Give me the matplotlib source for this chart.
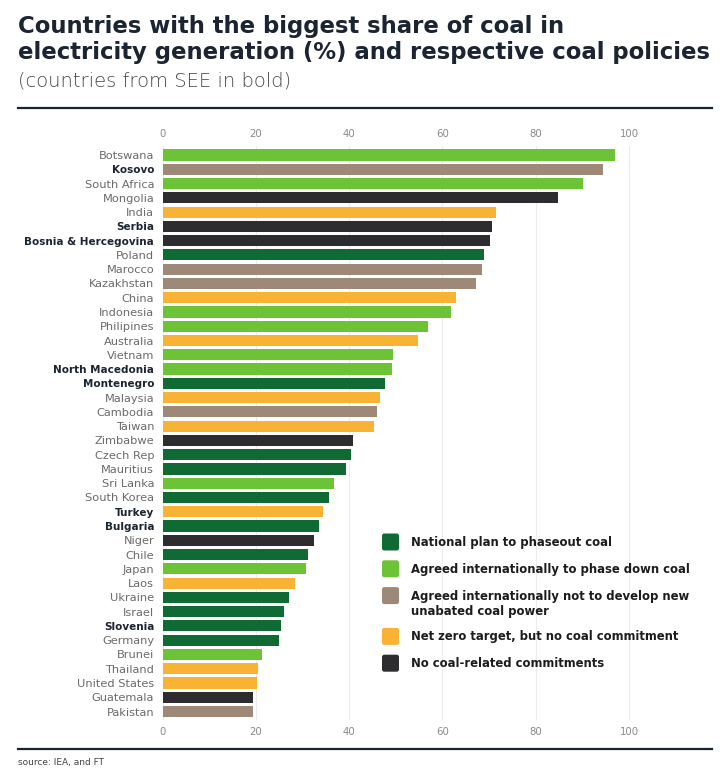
import matplotlib
matplotlib.use("Agg")
import matplotlib.pyplot as plt
from matplotlib.patches import FancyBboxPatch
from matplotlib.lines import Line2D

countries = ["Botswana", "Kosovo", "South Africa", "Mongolia", "India", "Serbia",
             "Bosnia & Hercegovina", "Poland", "Marocco", "Kazakhstan", "China",
             "Indonesia", "Philipines", "Australia", "Vietnam", "North Macedonia",
             "Montenegro", "Malaysia", "Cambodia", "Taiwan", "Zimbabwe", "Czech Rep",
             "Mauritius", "Sri Lanka", "South Korea", "Turkey", "Bulgaria", "Niger",
             "Chile", "Japan", "Laos", "Ukraine", "Israel", "Slovenia", "Germany",
             "Brunei", "Thailand", "United States", "Guatemala", "Pakistan"]
values = [97.0, 94.4, 90.1, 84.8, 71.5, 70.7, 70.3, 69.0, 68.4, 67.2, 63.0,
          61.8, 56.9, 54.7, 49.5, 49.3, 47.6, 46.7, 46.0, 45.4, 40.9, 40.4,
          39.4, 36.8, 35.7, 34.5, 33.5, 32.4, 31.1, 30.7, 28.5, 27.1, 26.1,
          25.5, 24.9, 21.3, 20.4, 20.3, 19.3, 19.3]
policy = ["down", "notnew", "down", "none", "netzero", "none", "none", "phaseout",
          "notnew", "notnew", "netzero", "down", "down", "netzero", "down", "down",
          "phaseout", "netzero", "notnew", "netzero", "none", "phaseout", "phaseout",
          "down", "phaseout", "netzero", "phaseout", "none", "phaseout", "down",
          "netzero", "phaseout", "phaseout", "phaseout", "phaseout", "down",
          "netzero", "netzero", "none", "notnew"]
see_countries = ["Kosovo", "Serbia", "Bosnia & Hercegovina", "North Macedonia",
                 "Montenegro", "Turkey", "Bulgaria", "Slovenia"]
policy_keys = ["phaseout", "down", "notnew", "netzero", "none"]
policy_labels = ["National plan to phaseout coal",
                 "Agreed internationally to phase down coal",
                 "Agreed internationally not to develop new\nunabated coal power",
                 "Net zero target, but no coal commitment",
                 "No coal-related commitments"]
xticks = [0, 20, 40, 60, 80, 100]

colors = {"phaseout": "#0f6a34", "down": "#6cc335", "notnew": "#9e8878",
          "netzero": "#f8b334", "none": "#2d2d2f"}

W, H = 720, 779
fig = plt.figure(figsize=(W / 100, H / 100), dpi=100)
fig.patch.set_facecolor("white")

# axes geometry in pixels
x0_px = 162.5
px_per_unit = 4.665
xmax = 106
row0 = 155.0
step = 14.27
n = len(countries)
top_px = row0 - 0.6 * step
bot_px = row0 + (n - 1 + 0.6) * step
ax = fig.add_axes([x0_px / W, 1 - bot_px / H, xmax * px_per_unit / W, (bot_px - top_px) / H])

ypos = list(range(n))
ax.barh(ypos, values, height=0.78, color=[colors[p] for p in policy], zorder=3)
ax.set_ylim(n - 1 + 0.6, -0.6)
ax.set_xlim(0, xmax)
ax.set_xticks(xticks)
ax.set_xticklabels([str(t) for t in xticks])
ax.tick_params(axis="x", which="both", top=True, labeltop=True, bottom=True,
               labelbottom=True, length=0, pad=5, labelsize=7.3, labelcolor="#8a8a8a")
ax.set_yticks(ypos)
ax.set_yticklabels(countries)
ax.tick_params(axis="y", length=0, pad=6)
for lab in ax.get_yticklabels():
    if lab.get_text() in see_countries:
        lab.set_fontweight("bold")
        lab.set_fontsize(7.5)
        lab.set_color("#1c2430")
    else:
        lab.set_fontsize(8.2)
        lab.set_color("#6a6a6a")
for s in ax.spines.values():
    s.set_visible(False)
ax.grid(axis="x", color="#ececec", linewidth=0.8, zorder=0)
ax.set_axisbelow(True)

# legend drawn manually: square + label
leg_x_sq = 382
leg_sq = 17
leg_x_txt = 411
leg_y = 542
leg_step = 26.8
line_h = 14
y = leg_y
for k, lab in zip(policy_keys, policy_labels):
    box = FancyBboxPatch(((leg_x_sq) / W, 1 - (y + leg_sq / 2) / H),
                         leg_sq / W, leg_sq / H,
                         boxstyle="round,pad=0,rounding_size=0.003",
                         transform=fig.transFigure, facecolor=colors[k],
                         edgecolor="none")
    fig.add_artist(box)
    nlines = lab.count("\n") + 1
    fig.text(leg_x_txt / W, 1 - (y - 6) / H, lab, fontsize=8.4,
             fontweight="semibold", color="#1c1c1c", va="top", ha="left",
             linespacing=1.25)
    y += leg_step + (nlines - 1) * line_h

# title block
fig.text(18 / W, 1 - 26 / H, "Countries with the biggest share of coal in",
         fontsize=16.4, fontweight="bold", color="#1b2430", va="center", ha="left")
fig.text(18 / W, 1 - 52 / H, "electricity generation (%) and respective coal policies",
         fontsize=16.4, fontweight="bold", color="#1b2430", va="center", ha="left")
fig.text(18 / W, 1 - 81 / H, "(countries from SEE in bold)",
         fontsize=14, fontweight="light", color="#484848", va="center", ha="left")

fig.add_artist(Line2D([18 / W, 712 / W], [1 - 108 / H, 1 - 108 / H],
                      color="#1b2430", linewidth=1.6))
fig.add_artist(Line2D([18 / W, 712 / W], [1 - 749 / H, 1 - 749 / H],
                      color="#1b2430", linewidth=1.6))
fig.text(18 / W, 1 - 762 / H, "source: IEA, and FT", fontsize=6.5,
         color="#444444", va="center", ha="left")

fig.savefig("out.png", dpi=100)
